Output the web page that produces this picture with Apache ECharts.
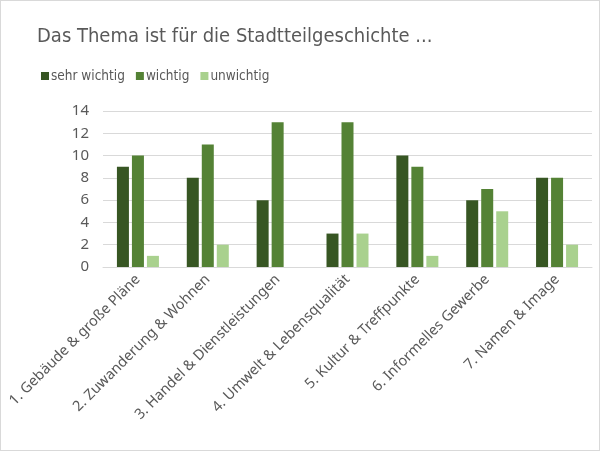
<!DOCTYPE html>
<html>
<head>
<meta charset="utf-8">
<script src="https://cdn.jsdelivr.net/npm/echarts@6/dist/echarts.min.js"></script>
<style>
  html, body { margin: 0; padding: 0; background: #fff; }
  #chart { width: 598px; height: 449px; border: 1px solid #d9d9d9; }
</style>
</head>
<body>
<div id="chart"></div>
<script>
const categories = [
  '1. Gebäude & große Pläne',
  '2. Zuwanderung & Wohnen',
  '3. Handel & Dienstleistungen',
  '4. Umwelt & Lebensqualität',
  '5. Kultur & Treffpunkte',
  '6. Informelles Gewerbe',
  '7. Namen & Image'
]
const sehrWichtig = [9, 8, 6, 3, 10, 6, 8]
const wichtig = [10, 11, 13, 13, 9, 7, 8]
const unwichtig = [1, 2, 0, 3, 1, 5, 2]
const seriesNames = ['sehr wichtig', 'wichtig', 'unwichtig']
const colors = ['#375623', '#548235', '#a9d18e']

const chart = echarts.init(document.getElementById('chart'))
const seriesData = [sehrWichtig, wichtig, unwichtig].map((d, i) => ({
  name: seriesNames[i],
  type: 'bar',
  barWidth: 12,
  barGap: '25%',
  itemStyle: { color: colors[i] },
  data: d
}))

const option = {
  animation: false,
  title: {
    text: 'Das Thema ist für die Stadtteilgeschichte ...',
    left: 31,
    top: 21,
    textStyle: {
      fontFamily: 'DejaVu Sans Condensed, sans-serif',
      fontWeight: 'normal',
      fontSize: 20,
      color: '#595959'
    }
  },
  legend: {
    left: 35,
    top: 63,
    icon: 'rect',
    itemWidth: 8,
    itemHeight: 8,
    itemGap: 11,
    textStyle: {
      fontFamily: 'DejaVu Sans Condensed, sans-serif',
      fontSize: 13.5,
      color: '#595959',
      padding: [0, 0, 0, -3]
    },
    data: seriesNames
  },
  grid: {
    left: 102,
    right: 7,
    top: 110,
    bottom: 183
  },
  xAxis: {
    type: 'category',
    data: categories,
    axisTick: { show: false },
    axisLine: { lineStyle: { color: '#d9d9d9' } },
    axisLabel: {
      rotate: 45,
      interval: 0,
      margin: 10,
      fontFamily: 'Noto Sans, sans-serif',
      fontSize: 14.5,
      color: '#595959'
    }
  },
  yAxis: {
    type: 'value',
    min: 0,
    max: 14,
    interval: 2,
    axisLine: { show: false },
    axisTick: { show: false },
    splitLine: { lineStyle: { color: '#d9d9d9' } },
    axisLabel: {
      margin: 14,
      fontFamily: 'Noto Sans, sans-serif',
      fontSize: 15,
      color: '#595959'
    }
  },
  series: seriesData
}

chart.setOption(option)
</script>
</body>
</html>
